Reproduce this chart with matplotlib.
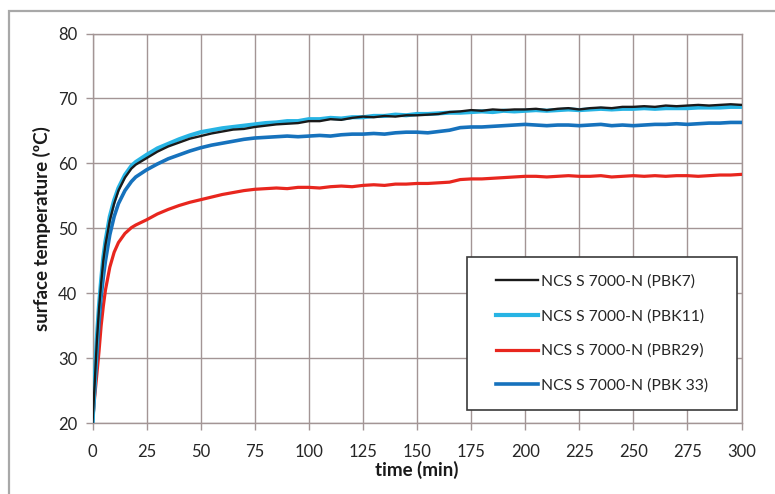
import numpy as np
import matplotlib
matplotlib.use("Agg")
import matplotlib.pyplot as plt
from matplotlib.patches import Rectangle

plt.rcParams["font.family"] = ["Lato", "DejaVu Sans"]

# time (min): dense at the start, then every 5 min
time_min = [0, 1, 2, 3, 4, 5, 6, 8, 10, 12, 15, 18, 20] + list(range(25, 305, 5))

pbk7 = [20, 26, 32.5, 37.5, 41.5, 45, 47.5, 51.2, 53.8, 55.8, 57.8, 59.2, 59.8,
        60.8, 61.8, 62.6, 63.2, 63.8, 64.2,
        64.6, 64.9, 65.2, 65.3, 65.6, 65.8, 66.0, 66.1, 66.2, 66.5,
        66.5, 66.8, 66.7, 67.0, 67.2, 67.1, 67.3, 67.2, 67.4, 67.4,
        67.5, 67.6, 67.9, 68.0, 68.2, 68.1, 68.3, 68.2, 68.3, 68.3,
        68.4, 68.2, 68.4, 68.5, 68.3, 68.5, 68.6, 68.5, 68.7, 68.7,
        68.8, 68.7, 68.9, 68.8, 68.9, 69.0, 68.9, 69.0, 69.1, 69.0]

pbk11 = [20, 26.5, 33, 38, 42, 45.5, 48, 51.8, 54.3, 56.2, 58.2, 59.6, 60.2,
         61.3, 62.3, 63.0, 63.7, 64.3, 64.8,
         65.1, 65.4, 65.6, 65.8, 66.0, 66.2, 66.3, 66.5, 66.5, 66.8,
         66.8, 67.0, 66.9, 67.1, 67.1, 67.3, 67.3, 67.5, 67.4, 67.6,
         67.6, 67.7, 67.8, 67.8, 67.9, 68.0, 67.9, 68.1, 68.0, 68.1,
         68.2, 68.1, 68.2, 68.3, 68.2, 68.3, 68.4, 68.3, 68.4, 68.4,
         68.5, 68.4, 68.5, 68.5, 68.5, 68.6, 68.6, 68.6, 68.7, 68.7]

pbr29 = [20, 24, 27.5, 31, 35, 38, 40.5, 44, 46.3, 47.8, 49.2, 50.1, 50.5,
         51.3, 52.2, 52.9, 53.5, 54.0, 54.4,
         54.8, 55.2, 55.5, 55.8, 56.0, 56.1, 56.2, 56.1, 56.3, 56.3,
         56.2, 56.4, 56.5, 56.4, 56.6, 56.7, 56.6, 56.8, 56.8, 56.9,
         56.9, 57.0, 57.1, 57.5, 57.6, 57.6, 57.7, 57.8, 57.9, 58.0,
         58.0, 57.9, 58.0, 58.1, 58.0, 58.0, 58.1, 57.9, 58.0, 58.1,
         58.0, 58.1, 58.0, 58.1, 58.1, 58.0, 58.1, 58.2, 58.2, 58.3]

pbk33 = [20, 25, 30.5, 35.5, 39.5, 42.5, 45, 49, 51.8, 53.8, 55.8, 57.2, 57.9,
         59.0, 59.9, 60.7, 61.3, 61.9, 62.4,
         62.8, 63.1, 63.4, 63.7, 63.9, 64.0, 64.1, 64.2, 64.1, 64.2,
         64.3, 64.2, 64.4, 64.5, 64.5, 64.6, 64.5, 64.7, 64.8, 64.8,
         64.7, 64.9, 65.1, 65.5, 65.6, 65.6, 65.7, 65.8, 65.9, 66.0,
         65.9, 65.8, 65.9, 65.9, 65.8, 65.9, 66.0, 65.8, 65.9, 65.8,
         65.9, 66.0, 66.0, 66.1, 66.0, 66.1, 66.2, 66.2, 66.3, 66.3]

labels = ["NCS S 7000-N (PBK7)", "NCS S 7000-N (PBK11)",
          "NCS S 7000-N (PBR29)", "NCS S 7000-N (PBK 33)"]
colors = ["#1a1a1a", "#27b4e4", "#e8261e", "#1672bd"]
widths = [1.7, 3.0, 2.3, 2.6]
zorders = [5, 4, 3, 3]

grid_col = "#a39595"
text_col = "#262626"

fig = plt.figure(figsize=(7.75, 4.94), dpi=100)
fig.patches.append(Rectangle((9 / 775, -0.2), 1.2, 0.2 + 1 - 11 / 494,
                             transform=fig.transFigure, fill=False,
                             edgecolor="#a8a8a8", lw=1.6))
ax = fig.add_axes([92.5 / 775, 1 - 423 / 494, 649 / 775, 389.5 / 494])

for ys, lab, c, w, z in zip([pbk7, pbk11, pbr29, pbk33], labels, colors, widths, zorders):
    ax.plot(time_min, ys, color=c, lw=w, label=lab, zorder=z)

ax.set_xlim(0, 300)
ax.set_ylim(20, 80)
ax.set_xticks(range(0, 301, 25))
ax.set_yticks(range(20, 81, 10))
ax.grid(True, color=grid_col, lw=1.0, zorder=0)
ax.set_axisbelow(True)
for s in ax.spines.values():
    s.set_color(grid_col)
    s.set_linewidth(1.0)
ax.tick_params(axis="both", direction="out", length=5, width=1.0, color=grid_col,
               labelsize=12, labelcolor=text_col)
ax.tick_params(axis="x", pad=10)
ax.tick_params(axis="y", pad=6)

ax.set_xlabel("time (min)", fontsize=13.5, fontweight="bold", color="#1a1a1a", labelpad=1)
ax.set_ylabel("surface temperature (ºC)", fontsize=13.5, fontweight="bold",
              color="#1a1a1a", labelpad=5)

# legend box drawn separately so the padding matches the original
x0, y0 = (467 - 92.5) / 649, (423 - 410) / 389.5
x1, y1 = (737 - 92.5) / 649, (423 - 257) / 389.5
ax.add_patch(Rectangle((x0, y0), x1 - x0, y1 - y0, transform=ax.transAxes,
                       facecolor="white", edgecolor="#3a3a3a", lw=1.2, zorder=6))
leg = ax.legend(loc="center", bbox_to_anchor=((x0 + x1) / 2, (y0 + y1) / 2),
                frameon=False, fontsize=11.3, handlelength=2.7, handletextpad=0.2,
                labelspacing=1.3, labelcolor=text_col)
leg.set_zorder(7)

fig.savefig("out.png", dpi=100)
